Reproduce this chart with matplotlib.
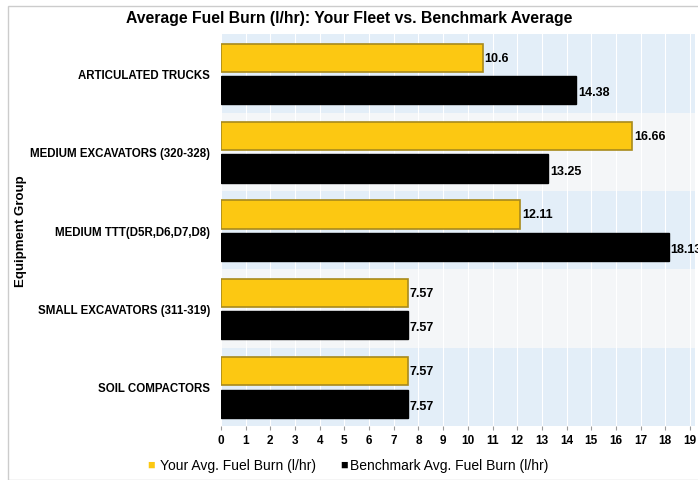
import numpy as np
import matplotlib.pyplot as plt
from matplotlib.patches import Rectangle

plt.rcParams['font.family'] = ['Liberation Sans', 'DejaVu Sans']

# dados
categorias = ["ARTICULATED TRUCKS", "MEDIUM EXCAVATORS (320-328)",
              "MEDIUM TTT(D5R,D6,D7,D8)", "SMALL EXCAVATORS (311-319)",
              "SOIL COMPACTORS"]
frota = [10.6, 16.66, 12.11, 7.57, 7.57]
benchmark = [14.38, 13.25, 18.13, 7.57, 7.57]
rotulos_frota = ["10.6", "16.66", "12.11", "7.57", "7.57"]
rotulos_bench = ["14.38", "13.25", "18.13", "7.57", "7.57"]

amarelo = "#fcc812"
preto = "#000000"

fig = plt.figure(figsize=(6.98, 4.81), dpi=100)
fig.patches.append(Rectangle((0.012, 0.0), 0.99, 0.985, transform=fig.transFigure,
                             fill=False, edgecolor="#cccccc", linewidth=1))
ax = fig.add_axes([0.3166, 0.112, 0.679, 0.815])

y = np.arange(len(categorias))

# faixas de fundo alternadas
for i in y:
    cor = "#e3eef8" if i % 2 == 0 else "#f4f6f8"
    ax.axhspan(i - 0.5, i + 0.5, color=cor, zorder=0, linewidth=0)
for xv in range(0, 20):
    ax.axvline(xv, color="white", linewidth=0.8, zorder=0.5)

h = 0.36
ax.barh(y - 0.2, frota, height=h, color=amarelo, edgecolor="#a88a1c",
        linewidth=1.2, zorder=2)
ax.barh(y + 0.215, benchmark, height=h, color=preto, edgecolor=preto,
        linewidth=1, zorder=2)

for i in y:
    ax.text(frota[i] + 0.08, i - 0.2, rotulos_frota[i], va="center", ha="left",
            fontsize=9, fontweight="bold", zorder=3)
    ax.text(benchmark[i] + 0.08, i + 0.24, rotulos_bench[i], va="center", ha="left",
            fontsize=9, fontweight="bold", zorder=3, clip_on=False)

ax.set_xlim(0, 19.2)
ax.set_ylim(len(categorias) - 0.5, -0.5)
ax.set_xticks(range(0, 20))
ax.set_yticks(y)
ax.set_yticklabels(categorias, fontsize=8.3, fontweight="bold")
for lab in ax.get_xticklabels():
    lab.set_fontweight("bold")
    lab.set_fontsize(8.5)
ax.tick_params(axis="x", length=3, color="#999999", pad=3)
ax.tick_params(axis="y", length=0, pad=8)
for s in ax.spines.values():
    s.set_visible(False)

ax.set_ylabel("Equipment Group", fontsize=9.5, fontweight="bold")
ax.yaxis.set_label_coords(-0.41, 0.5)

fig.text(0.5, 0.962, "Average Fuel Burn (l/hr): Your Fleet vs. Benchmark Average",
         ha="center", va="center", fontsize=11.3, fontweight="bold")

# legenda
fig.text(0.211, 0.032, "\u25a0", color=amarelo, fontsize=9, ha="left", va="center")
fig.text(0.229, 0.032, "Your Avg. Fuel Burn (l/hr)", fontsize=10, ha="left", va="center")
fig.text(0.487, 0.032, "\u25a0", color=preto, fontsize=9, ha="left", va="center")
fig.text(0.502, 0.032, "Benchmark Avg. Fuel Burn (l/hr)", fontsize=10, ha="left", va="center")

fig.savefig("out.png", dpi=100)
